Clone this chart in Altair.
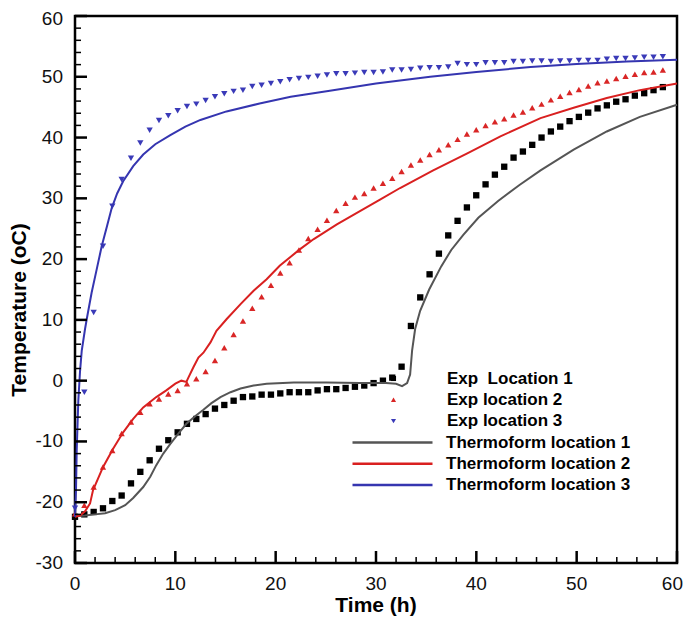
import altair as alt
import pandas as pd

# ---------------- data ----------------
exp_time = [0.0, 0.93, 1.86, 2.79, 3.72, 4.65, 5.58, 6.51, 7.44, 8.37,
            9.3, 10.23, 11.16, 12.09, 13.02, 13.95, 14.88, 15.81, 16.74, 17.67,
            18.6, 19.53, 20.46, 21.39, 22.32, 23.25, 24.18, 25.11, 26.04, 26.97,
            27.9, 28.83, 29.76, 30.69, 31.62, 32.55, 33.48, 34.41, 35.34, 36.27,
            37.2, 38.13, 39.06, 39.99, 40.92, 41.85, 42.78, 43.71, 44.64, 45.57,
            46.5, 47.43, 48.36, 49.29, 50.22, 51.15, 52.08, 53.01, 53.94, 54.87,
            55.8, 56.73, 57.66, 58.59]

exp_loc1 = [-22.4, -22.0, -21.6, -21.0, -19.8, -18.9, -16.9, -15.0, -13.1, -11.2,
            -9.8, -8.5, -7.1, -6.3, -5.5, -4.6, -4.0, -3.3, -2.7, -2.6,
            -2.3, -2.3, -2.1, -1.9, -1.9, -1.9, -1.6, -1.4, -1.4, -1.2,
            -1.0, -0.8, -0.4, 0.0, 0.5, 2.3, 9.0, 13.7, 17.5, 20.9,
            23.9, 26.3, 28.5, 30.5, 32.3, 33.9, 35.2, 36.7, 37.7, 38.8,
            40.0, 41.0, 41.8, 42.7, 43.4, 44.1, 44.8, 45.3, 45.9, 46.3,
            46.9, 47.3, 47.8, 48.3]

exp_loc2 = [-21.9, -20.5, -17.5, -14.2, -11.5, -8.7, -6.8, -5.2, -3.8, -3.0,
            -2.2, -1.6, -0.5, 0.3, 1.5, 3.3, 5.4, 7.6, 9.8, 11.9,
            13.8, 15.7, 17.7, 19.4, 21.5, 23.4, 24.9, 26.4, 28.0, 29.2,
            30.2, 30.8, 31.7, 32.5, 33.3, 34.4, 35.5, 36.3, 37.2, 38.0,
            38.8, 39.7, 40.6, 41.3, 42.0, 42.6, 43.1, 43.7, 44.2, 44.9,
            45.5, 46.2, 46.8, 47.4, 47.9, 48.5, 49.0, 49.3, 49.7, 50.1,
            50.4, 50.7, 50.8, 51.1]

exp_loc3 = [-21.0, -1.9, 11.2, 22.1, 28.7, 33.1, 36.6, 39.1, 41.2, 42.8,
            43.6, 44.4, 45.1, 45.5, 46.1, 46.7, 47.2, 47.6, 47.8, 48.4,
            48.6, 48.9, 49.2, 49.5, 49.7, 49.9, 50.1, 50.3, 50.5, 50.5,
            50.6, 50.7, 50.7, 50.8, 51.1, 51.1, 51.2, 51.4, 51.5, 51.5,
            51.6, 52.2, 52.0, 52.0, 52.3, 52.3, 52.3, 52.5, 52.5, 52.6,
            52.6, 52.5, 52.6, 52.6, 52.7, 52.7, 52.7, 52.9, 53.0, 53.0,
            53.1, 53.2, 53.2, 53.3]

th1_time = [0.0, 1.0, 2.0, 3.0, 4.0, 5.0, 5.8, 6.8, 7.5, 8.1,
            8.8, 9.5, 10.3, 11.1, 12.0, 12.8, 13.6, 14.5, 15.5, 16.5,
            17.8, 19.1, 21.8, 25.1, 28.4, 31.0, 32.0, 32.6, 33.1, 33.4,
            33.6, 33.9, 34.4, 35.3, 36.5, 37.5, 38.7, 40.2, 42.2, 44.3,
            46.4, 49.7, 53.0, 56.3, 60.0]
th1_temp = [-22.3, -22.2, -22.0, -21.8, -21.3, -20.5, -19.3, -17.5, -15.8, -13.9,
            -12.0, -10.4, -8.7, -7.1, -5.8, -4.8, -3.7, -2.7, -1.9, -1.3,
            -0.8, -0.5, -0.3, -0.3, -0.4, -0.4, -0.5, -0.9, -0.4, 1.0,
            5.0, 8.5, 11.5, 15.0, 18.8, 21.5, 24.0, 26.8, 29.6, 32.2,
            34.6, 38.0, 41.0, 43.4, 45.4]

th2_time = [0.0, 0.5, 1.0, 1.5, 1.8, 2.8, 3.8, 4.8, 5.8, 6.8,
            8.1, 9.1, 10.0, 10.6, 11.1, 11.3, 11.8, 12.3, 12.8, 13.5,
            14.1, 15.1, 16.5, 17.8, 19.1, 20.4, 22.4, 23.8, 26.1, 28.4,
            30.4, 32.4, 35.7, 39.1, 42.4, 46.4, 49.7, 53.0, 56.3, 60.0]
th2_temp = [-22.4, -22.2, -21.5, -20.2, -18.0, -14.2, -11.2, -8.5, -6.3, -4.4,
            -2.7, -1.6, -0.5, 0.0, -0.2, 0.5, 2.2, 3.8, 4.6, 6.3,
            8.2, 10.1, 12.6, 14.8, 16.7, 18.9, 21.6, 23.3, 25.7, 27.9,
            29.8, 31.7, 34.6, 37.4, 40.2, 43.2, 44.9, 46.5, 47.8, 48.9]

th3_time = [0.0, 0.1, 0.17, 0.33, 0.5, 0.67, 1.0, 1.2, 1.66, 2.2,
            2.66, 3.2, 3.66, 4.2, 4.8, 5.8, 6.8, 8.0, 9.5, 11.0,
            12.5, 15.1, 18.4, 21.5, 25.4, 30.0, 35.4, 40.0, 45.4, 50.0,
            55.0, 60.0]
th3_temp = [-22.4, -18.0, -11.5, -3.3, 1.5, 4.9, 8.5, 10.4, 14.5, 18.6,
            22.1, 25.5, 28.4, 30.8, 32.8, 35.3, 37.2, 38.9, 40.4, 41.8,
            42.9, 44.3, 45.6, 46.7, 47.7, 48.9, 50.0, 50.8, 51.6, 52.1,
            52.5, 52.8]

exp_names = ["Exp\u00a0 Location 1", "Exp location 2", "Exp location 3"]
th_names = ["Thermoform location 1", "Thermoform location 2", "Thermoform location 3"]
exp_colors = ["#000000", "#d92626", "#3a3ab8"]
exp_shapes = ["square", "triangle-up", "triangle-down"]
th_colors = ["#555555", "#d92020", "#3535b0"]

x_title = ["Time (h)"]
y_title = ["Temperature (oC)"]
major_x = [0, 10, 20, 30, 40, 50, 60]
minor_x = [2, 4, 6, 8, 12, 14, 16, 18, 22, 24, 26, 28, 32, 34, 36, 38,
           42, 44, 46, 48, 52, 54, 56, 58]
major_y = [-30, -20, -10, 0, 10, 20, 30, 40, 50, 60]
minor_y = [-28, -26, -24, -22, -18, -16, -14, -12, -8, -6, -4, -2,
           2, 4, 6, 8, 12, 14, 16, 18, 22, 24, 26, 28, 32, 34, 36, 38,
           42, 44, 46, 48, 52, 54, 56, 58]

# ---------------- tables ----------------
pts_rows = []
for name, vals in zip(exp_names, [exp_loc1, exp_loc2, exp_loc3]):
    for t, v in zip(exp_time, vals):
        pts_rows.append({"t": t, "T": v, "series": name})
pts_df = pd.DataFrame(pts_rows)

line_rows = []
for name, ts, vs in zip(th_names, [th1_time, th2_time, th3_time],
                        [th1_temp, th2_temp, th3_temp]):
    for i, (t, v) in enumerate(zip(ts, vs)):
        line_rows.append({"t": t, "T": v, "series": name, "i": i})
lines_df = pd.DataFrame(line_rows)

xmaj_df = pd.DataFrame({"xv": major_x})
xmin_df = pd.DataFrame({"xm": minor_x})
ymaj_df = pd.DataFrame({"yv": major_y})
ymin_df = pd.DataFrame({"ym": minor_y})
xlab_df = pd.DataFrame({"lx": major_x})
ylab_df = pd.DataFrame({"ly": major_y})
xt_df = pd.DataFrame({"label": x_title})
yt_df = pd.DataFrame({"label": y_title})

# ---------------- styling ----------------
FONT = "Liberation Sans"
W, H = 602, 547

xs = alt.Scale(domain=[0, 60], nice=False, zero=False)
ys = alt.Scale(domain=[-30, 60], nice=False, zero=False)

# tick glyphs: custom symbol paths (unit path scaled by sqrt(size)/2)
VTICK = "M0,0L0,-2"   # vertical stroke pointing up into the plot
HTICK = "M0,0L2,0"    # horizontal stroke pointing right into the plot
MAJ_SIZE = 144        # 12 px long
MIN_SIZE = 36         # 6 px long

leg_exp = alt.Legend(orient="none", legendX=310, legendY=354, title=None,
                     labelFont=FONT, labelFontSize=17, labelFontWeight="bold",
                     labelColor="black", labelLimit=400, symbolSize=26,
                     symbolStrokeWidth=0, labelOffset=45, rowPadding=3.3, padding=0)
leg_th = alt.Legend(orient="none", legendX=309, legendY=418, title=None,
                    labelFont=FONT, labelFontSize=17, labelFontWeight="bold",
                    labelColor="black", labelLimit=400, symbolType="M-8,0L8,0",
                    symbolSize=100, symbolStrokeWidth=2.5, labelOffset=45,
                    rowPadding=3.3, padding=0)

# inward tick marks placed by the shared scales from the tick lists
xmaj = alt.Chart(xmaj_df).mark_point(shape=VTICK, filled=False, color="black",
                                     size=MAJ_SIZE, strokeWidth=2.5, opacity=1).encode(
    x=alt.X("xv:Q", scale=xs, axis=None), y=alt.value(H))
xmin = alt.Chart(xmin_df).mark_point(shape=VTICK, filled=False, color="black",
                                     size=MIN_SIZE, strokeWidth=1.5, opacity=1).encode(
    x=alt.X("xm:Q", scale=xs, axis=None), y=alt.value(H))
ymaj = alt.Chart(ymaj_df).mark_point(shape=HTICK, filled=False, color="black",
                                     size=MAJ_SIZE, strokeWidth=2.5, opacity=1).encode(
    y=alt.Y("yv:Q", scale=ys, axis=None), x=alt.value(0))
ymin = alt.Chart(ymin_df).mark_point(shape=HTICK, filled=False, color="black",
                                     size=MIN_SIZE, strokeWidth=1.5, opacity=1).encode(
    y=alt.Y("ym:Q", scale=ys, axis=None), x=alt.value(0))

# tick labels, placed by the same scales
xlab = alt.Chart(xlab_df).transform_filter("datum.lx < 60").transform_calculate(
    lbl="toString(datum.lx)"
).mark_text(font=FONT, fontSize=19, color="#111111", align="center",
            baseline="middle").encode(
    x=alt.X("lx:Q", scale=xs, axis=None), y=alt.value(H + 21), text="lbl:N")
xlab_end = alt.Chart(xlab_df).transform_filter("datum.lx == 60").transform_calculate(
    lbl="toString(datum.lx)"
).mark_text(font=FONT, fontSize=19, color="#111111", align="right",
            baseline="middle", dx=6).encode(
    x=alt.X("lx:Q", scale=xs, axis=None), y=alt.value(H + 21), text="lbl:N")
ylab = alt.Chart(ylab_df).transform_filter("datum.ly < 60").transform_calculate(
    lbl="toString(datum.ly)"
).mark_text(font=FONT, fontSize=19, color="#111111", align="right",
            baseline="middle").encode(
    y=alt.Y("ly:Q", scale=ys, axis=None), x=alt.value(-12), text="lbl:N")
ylab_end = alt.Chart(ylab_df).transform_filter("datum.ly == 60").transform_calculate(
    lbl="toString(datum.ly)"
).mark_text(font=FONT, fontSize=19, color="#111111", align="right",
            baseline="middle", dy=3).encode(
    y=alt.Y("ly:Q", scale=ys, axis=None), x=alt.value(-12), text="lbl:N")

# axis titles
xtitle = alt.Chart(xt_df).mark_text(font=FONT, fontSize=21, fontWeight="bold",
                                    color="black", align="center",
                                    baseline="middle").encode(
    x=alt.value(W / 2), y=alt.value(H + 43), text="label:N")
ytitle = alt.Chart(yt_df).mark_text(font=FONT, fontSize=21, fontWeight="bold",
                                    color="black", align="center",
                                    baseline="middle", angle=270).encode(
    x=alt.value(-55), y=alt.value(294), text="label:N")

pts = alt.Chart(pts_df).mark_point(filled=True, size=40, opacity=1).encode(
    x=alt.X("t:Q", scale=xs, axis=None),
    y=alt.Y("T:Q", scale=ys, axis=None),
    fill=alt.Fill("series:N", scale=alt.Scale(domain=exp_names, range=exp_colors),
                  legend=leg_exp),
    shape=alt.Shape("series:N", scale=alt.Scale(domain=exp_names, range=exp_shapes),
                    legend=leg_exp),
)

lines = alt.Chart(lines_df).mark_line(strokeWidth=2).encode(
    x=alt.X("t:Q", scale=xs, axis=None),
    y=alt.Y("T:Q", scale=ys, axis=None),
    stroke=alt.Stroke("series:N", scale=alt.Scale(domain=th_names, range=th_colors),
                      legend=leg_th),
    order=alt.Order("i:Q"),
)

chart = alt.layer(pts, lines, xlab, xlab_end, ylab, ylab_end, xtitle, ytitle,
                  xmaj, xmin, ymaj, ymin).properties(
    width=W, height=H,
    autosize=alt.AutoSizeParams(type="none"),
    padding={"left": 67, "top": 8, "right": 6, "bottom": 55},
).configure_view(stroke="black", strokeWidth=2.5)

chart.save("out.html", embed_options={"renderer": "svg", "actions": False})
